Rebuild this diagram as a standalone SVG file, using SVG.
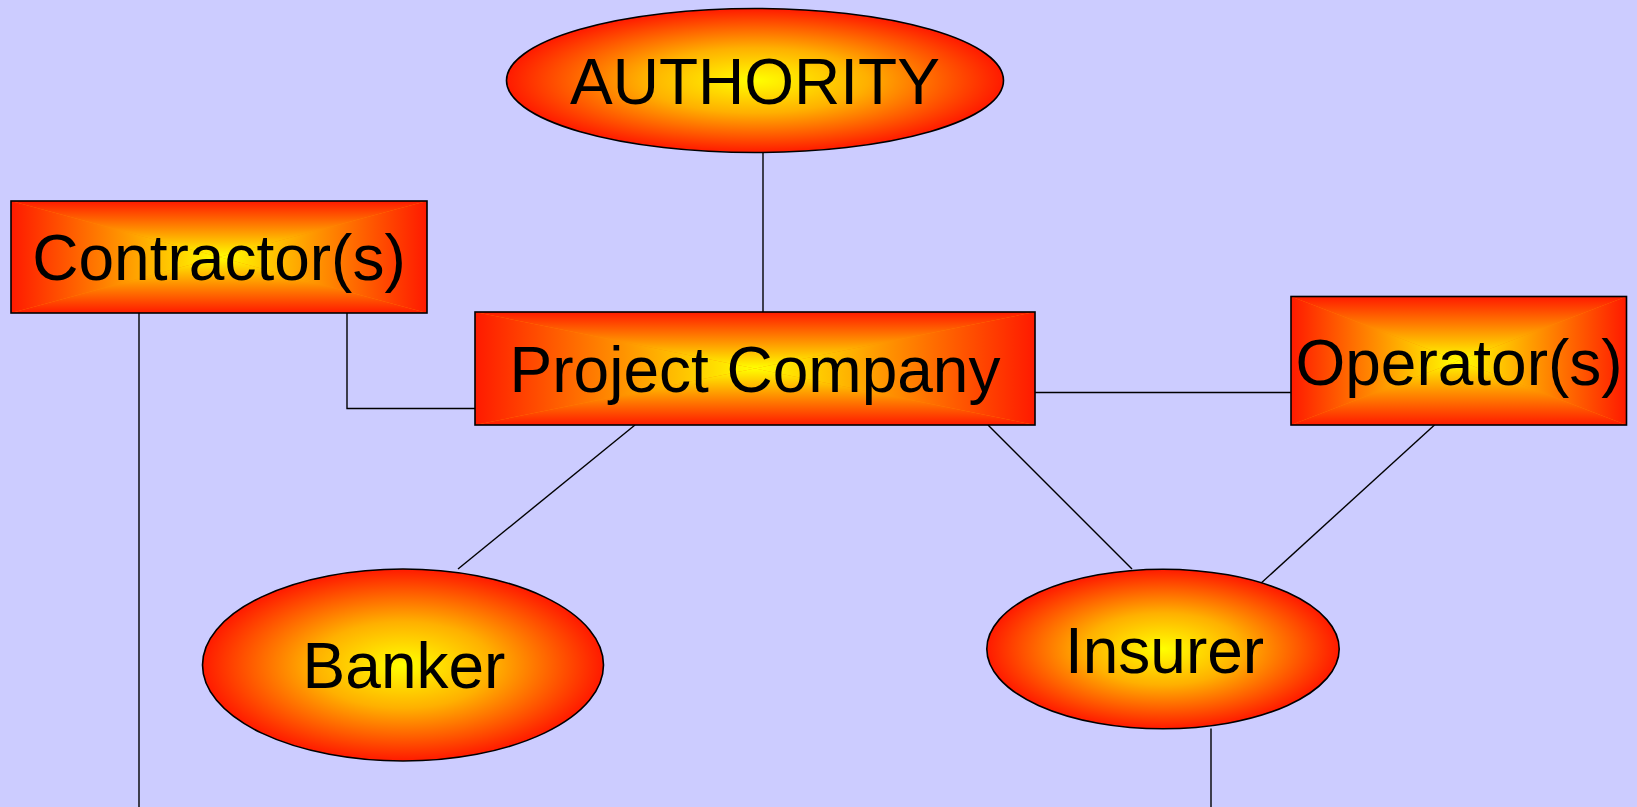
<svg xmlns="http://www.w3.org/2000/svg" width="1637" height="807" viewBox="0 0 1637 807">
<style>
.lbl{font-family:"Liberation Sans",Arial,sans-serif;font-size:64px;fill:#000;text-anchor:middle}
.edge{fill:none;stroke:#000;stroke-width:1.4}
.outline{fill:none;stroke:#000;stroke-width:1.6}
.ell{fill:url(#gRad);stroke:#000;stroke-width:1.6}
.base{fill:#FF8C00}
</style>
<defs>
<radialGradient id="gRad" cx="0.5" cy="0.5" r="0.5">
<stop offset="0" stop-color="#FFFF00"/>
<stop offset="0.45" stop-color="#FFB000"/>
<stop offset="1" stop-color="#FF1A00"/>
</radialGradient>
<linearGradient id="gT" x1="0" y1="0" x2="0" y2="1">
<stop offset="0" stop-color="#FF1A00"/><stop offset="1" stop-color="#FFFF00"/>
</linearGradient>
<linearGradient id="gB" x1="0" y1="1" x2="0" y2="0">
<stop offset="0" stop-color="#FF1A00"/><stop offset="1" stop-color="#FFFF00"/>
</linearGradient>
<linearGradient id="gL" x1="0" y1="0" x2="1" y2="0">
<stop offset="0" stop-color="#FF1A00"/><stop offset="1" stop-color="#FFFF00"/>
</linearGradient>
<linearGradient id="gR" x1="1" y1="0" x2="0" y2="0">
<stop offset="0" stop-color="#FF1A00"/><stop offset="1" stop-color="#FFFF00"/>
</linearGradient>
</defs>
<rect width="1637" height="807" fill="#CCCCFF"/>
<g id="connectors">
<line class="edge" x1="763" y1="152" x2="763" y2="312"/>
<line class="edge" x1="139" y1="313" x2="139" y2="807"/>
<polyline class="edge" points="347,313 347,408.5 475,408.5"/>
<line class="edge" x1="1035" y1="392.5" x2="1291" y2="392.5"/>
<line class="edge" x1="635" y1="425" x2="458" y2="569"/>
<line class="edge" x1="988" y1="425" x2="1132" y2="569"/>
<line class="edge" x1="1434.5" y1="425" x2="1259" y2="585"/>
<line class="edge" x1="1211" y1="728.5" x2="1211" y2="807"/>
</g>
<g id="authority">
<ellipse class="ell" cx="755" cy="80.5" rx="248.5" ry="72"/>
<text class="lbl" x="755" y="104">AUTHORITY</text>
</g>
<g id="contractor">
<rect class="base" x="11" y="201" width="416" height="112"/>
<polygon fill="url(#gT)" points="11,201 427,201 219,257"/>
<polygon fill="url(#gB)" points="11,313 427,313 219,257"/>
<polygon fill="url(#gL)" points="11,201 11,313 219,257"/>
<polygon fill="url(#gR)" points="427,201 427,313 219,257"/>
<rect class="outline" x="11" y="201" width="416" height="112"/>
<text class="lbl" x="219" y="280">Contractor(s)</text>
</g>
<g id="project-company">
<rect class="base" x="475" y="312" width="560" height="113"/>
<polygon fill="url(#gT)" points="475,312 1035,312 755,368.5"/>
<polygon fill="url(#gB)" points="475,425 1035,425 755,368.5"/>
<polygon fill="url(#gL)" points="475,312 475,425 755,368.5"/>
<polygon fill="url(#gR)" points="1035,312 1035,425 755,368.5"/>
<rect class="outline" x="475" y="312" width="560" height="113"/>
<text class="lbl" x="755" y="392">Project Company</text>
</g>
<g id="operator">
<rect class="base" x="1291" y="296.5" width="335.5" height="128.5"/>
<polygon fill="url(#gT)" points="1291,296.5 1626.5,296.5 1458.75,360.75"/>
<polygon fill="url(#gB)" points="1291,425 1626.5,425 1458.75,360.75"/>
<polygon fill="url(#gL)" points="1291,296.5 1291,425 1458.75,360.75"/>
<polygon fill="url(#gR)" points="1626.5,296.5 1626.5,425 1458.75,360.75"/>
<rect class="outline" x="1291" y="296.5" width="335.5" height="128.5"/>
<text class="lbl" x="1459" y="385">Operator(s)</text>
</g>
<g id="banker">
<ellipse class="ell" cx="403" cy="665" rx="200.5" ry="96"/>
<text class="lbl" x="404" y="688">Banker</text>
</g>
<g id="insurer">
<ellipse class="ell" cx="1163" cy="649" rx="176.2" ry="79.8"/>
<text class="lbl" x="1164.5" y="673">Insurer</text>
</g>
</svg>
